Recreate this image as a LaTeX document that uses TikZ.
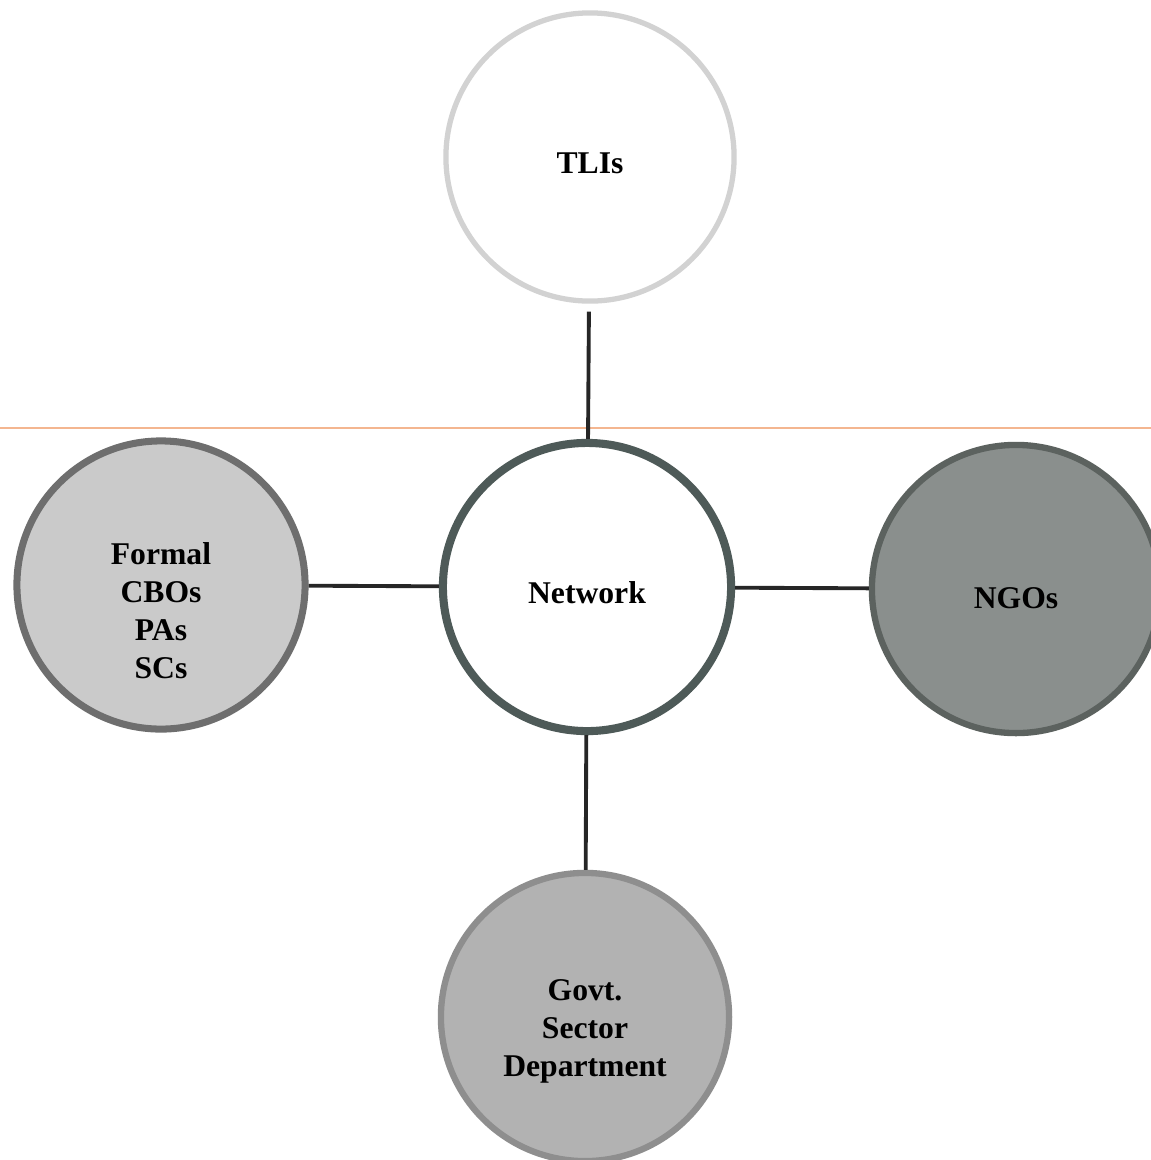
\documentclass[tikz,border=0pt]{standalone}
\usepackage{fontspec}
\setmainfont{Liberation Serif}
\usetikzlibrary{positioning}
\usetikzlibrary{math}

\definecolor{ringnet}{HTML}{4E5A58}
\definecolor{ringtli}{HTML}{D2D2D2}
\definecolor{fillcbo}{HTML}{CACACA}
\definecolor{ringcbo}{HTML}{6E6E6E}
\definecolor{fillngo}{HTML}{8A8F8D}
\definecolor{ringngo}{HTML}{5C625F}
\definecolor{fillgov}{HTML}{B2B2B2}
\definecolor{ringgov}{HTML}{8E8E8E}
\definecolor{linkgray}{HTML}{262626}
\definecolor{ruleorange}{HTML}{F4B690}

\begin{document}
\begin{tikzpicture}[
  x=0.01cm, y=-0.01cm,
  line width=0.20mm,
  actor/.style={circle, minimum size=2.88cm, inner sep=0pt},
  caption/.style={font=\bfseries\fontsize{9}{10.8}\selectfont,
    align=center, inner sep=0pt},
  link/.style={draw=linkgray, line width=1.1pt},
  ]

  \tikzmath{
    \gapt = 0.08; % gap below TLIs circle
  }

  % Frame of the page
  \useasboundingbox (0,0) rectangle (1151,1160);
  \clip (0,0) rectangle (1151,1160);
  \fill[white] (0,0) rectangle (1151,1160);

  % Thin rule across the page
  \coordinate (rule west) at (0,428);
  \coordinate (rule east) at (1151,428);
  \draw[ruleorange, line width=0.3pt] (rule west) -- (rule east);

  % Actors around the network
  \node[actor, draw=ringnet, line width=2.3pt, fill=white,
    label={[caption, yshift=-0.06cm]center:Network}] (net) at (587,587) {};
  \node[actor, draw=ringtli, line width=1.5pt, fill=white,
    label={[caption, yshift=-0.06cm]center:TLIs}] (tli) at (590,157) {};
  \node[actor, draw=ringcbo, line width=2pt, fill=fillcbo,
    label={[caption, yshift=-0.26cm]center:{Formal\\CBOs\\PAs\\SCs}}] (cbo) at (161,585) {};
  \node[actor, draw=ringngo, line width=1.8pt, fill=fillngo,
    label={[caption, yshift=-0.09cm]center:NGOs}] (ngo) at (1016,589) {};
  \node[actor, draw=ringgov, line width=1.8pt, fill=fillgov,
    label={[caption, yshift=-0.14cm]center:{Govt.\\Sector\\Department}}] (gov) at (585,1017) {};

  % Links
  \draw[link, shorten <=\gapt cm] (tli) -- (net);
  \draw[link] (cbo) -- (net);
  \draw[link] (net) -- (ngo);
  \draw[link] (net) -- (gov);

\end{tikzpicture}
\end{document}
